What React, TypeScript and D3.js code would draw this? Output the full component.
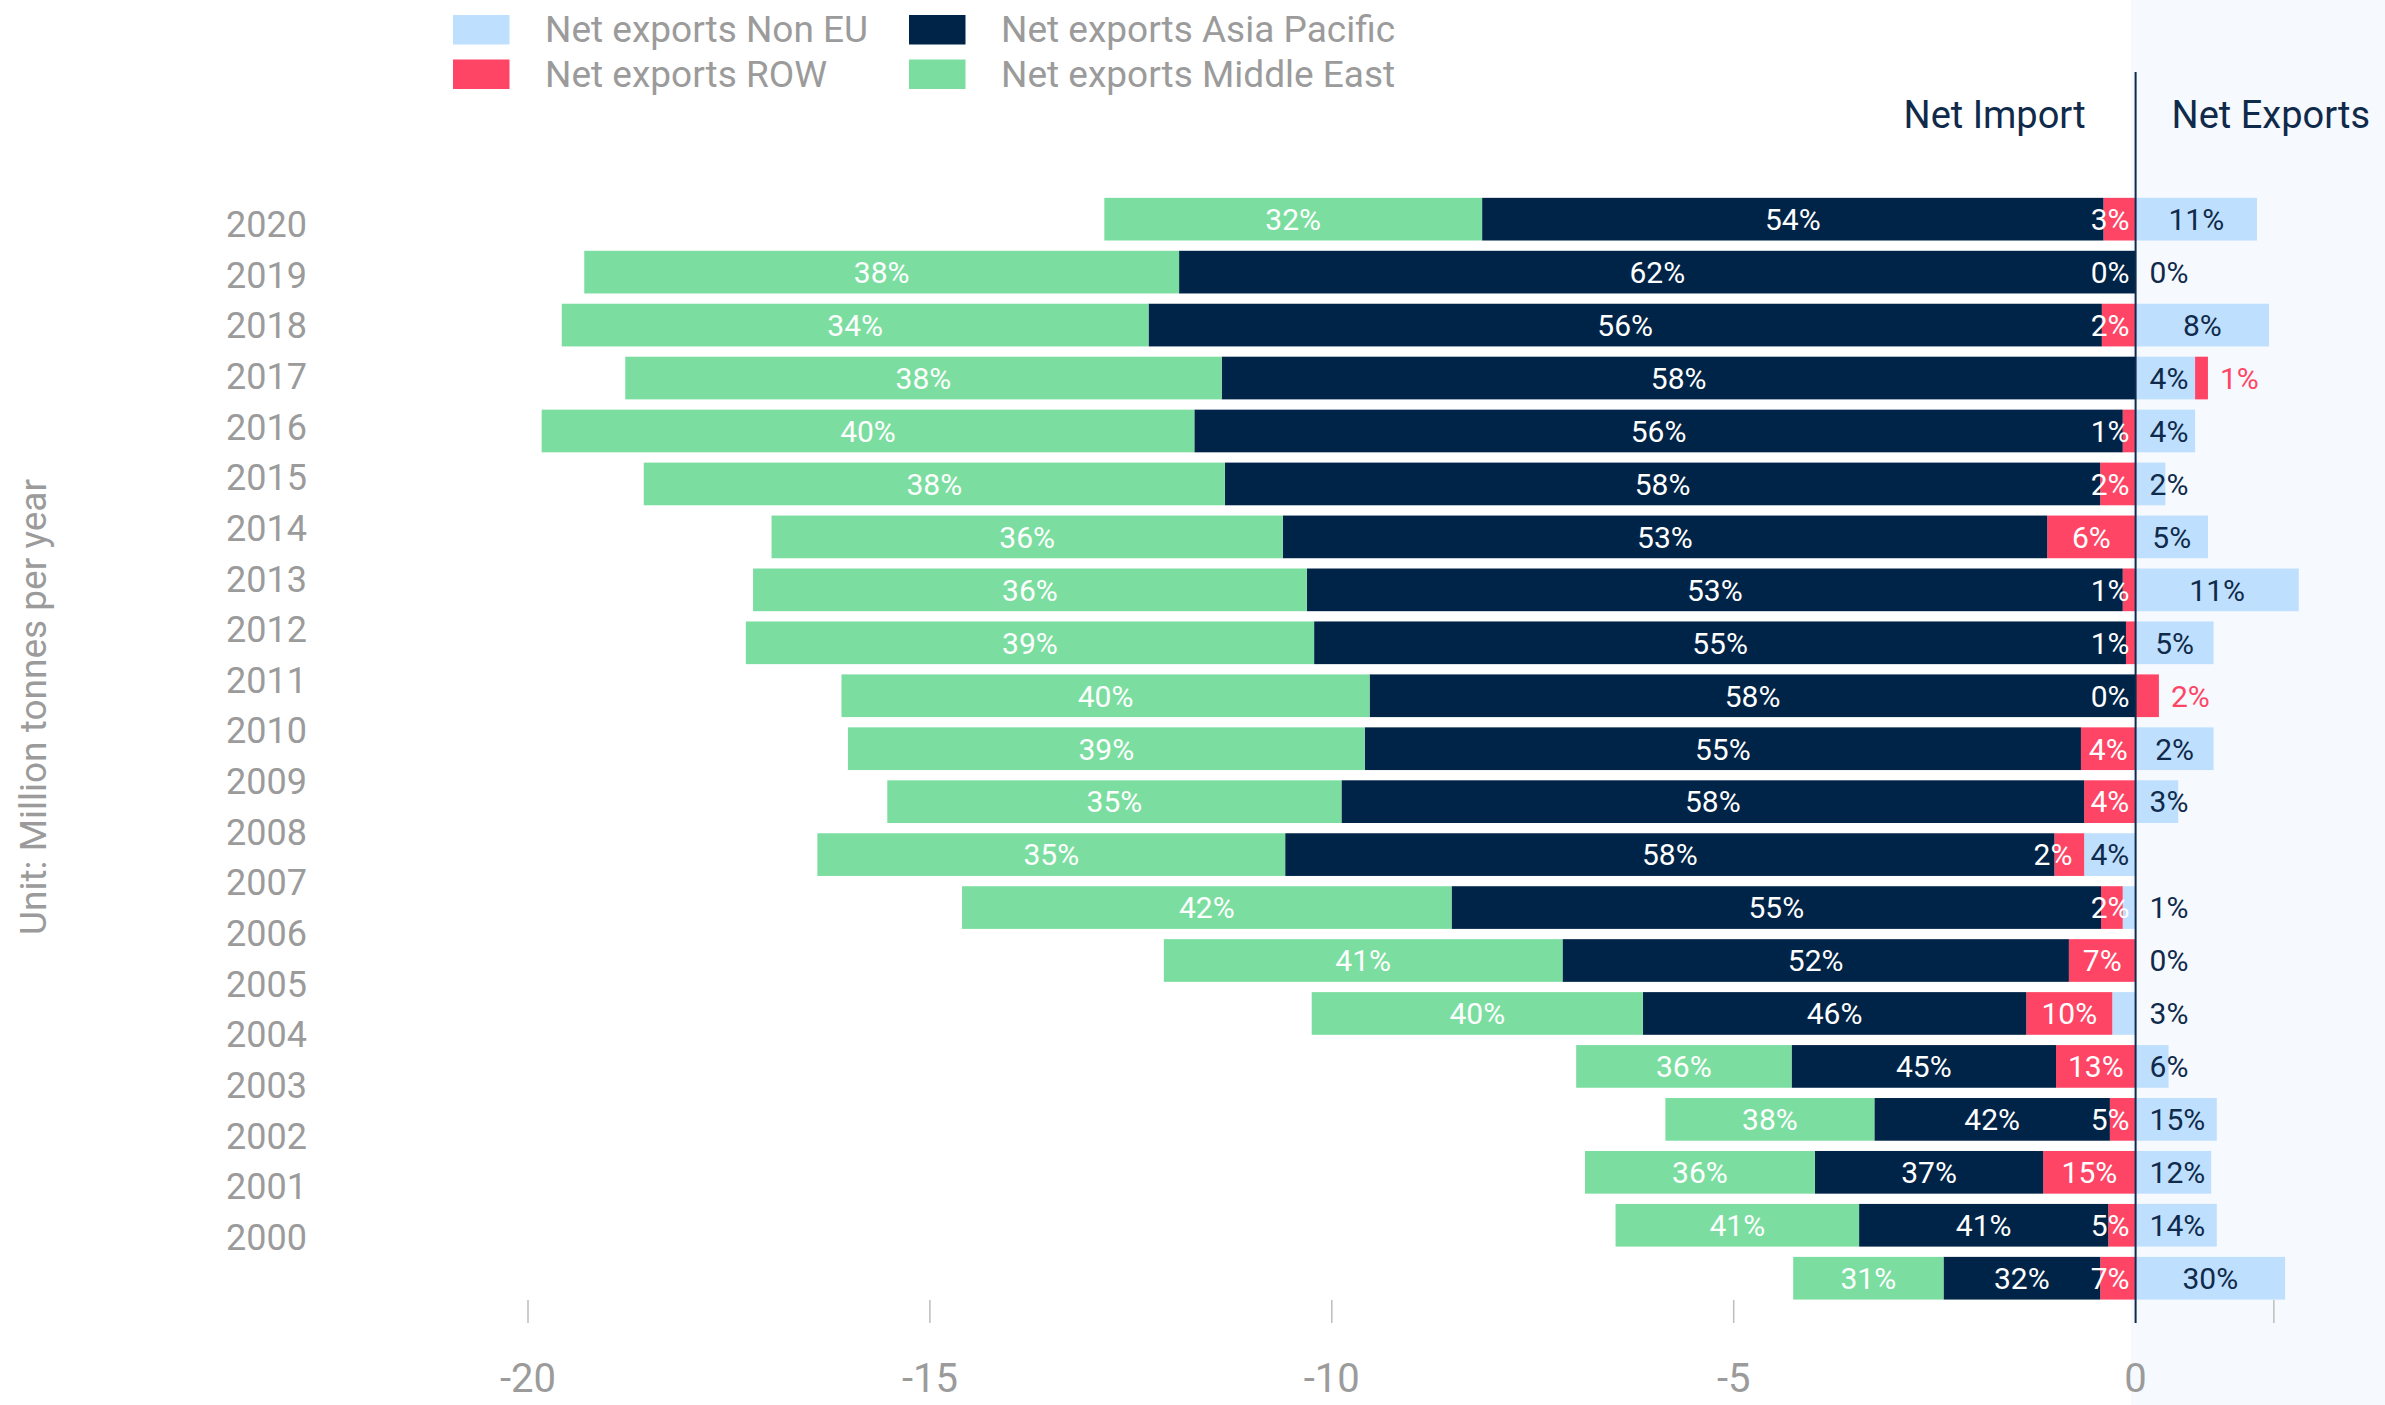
import React from 'react';
import * as d3 from 'd3';

// ---------- data (million tonnes per year, magnitudes) ----------
const years = [2020, 2019, 2018, 2017, 2016, 2015, 2014, 2013, 2012, 2011, 2010, 2009, 2008, 2007, 2006, 2005, 2004, 2003, 2002, 2001, 2000];
const middleEast = [4.70, 7.40, 7.30, 7.42, 8.12, 7.23, 6.36, 6.89, 7.07, 6.57, 6.43, 5.65, 5.82, 6.09, 4.96, 4.12, 2.68, 2.60, 2.86, 3.03, 1.87];
const asiaPacific = [7.73, 11.90, 11.86, 11.37, 11.55, 10.89, 9.51, 10.15, 10.10, 9.53, 8.91, 9.24, 9.57, 8.08, 6.30, 4.77, 3.29, 2.93, 2.84, 3.10, 1.95];
const rowImport = [0.40, 0, 0.42, 0, 0.16, 0.44, 1.10, 0.16, 0.12, 0, 0.68, 0.64, 0.37, 0.27, 0.83, 1.07, 0.99, 0.32, 1.15, 0.34, 0.44];
const rowExport = [0, 0, 0, 0.16, 0, 0, 0, 0, 0, 0.29, 0, 0, 0, 0, 0, 0, 0, 0, 0, 0, 0];
const nonEU = [1.51, 0, 1.66, 0.74, 0.74, 0.37, 0.90, 2.03, 0.97, 0, 0.97, 0.53, -0.64, -0.16, 0, -0.29, 0.41, 1.01, 0.94, 1.01, 1.86];

const middleEastPct = ['32%', '38%', '34%', '38%', '40%', '38%', '36%', '36%', '39%', '40%', '39%', '35%', '35%', '42%', '41%', '40%', '36%', '38%', '36%', '41%', '31%'];
const asiaPacificPct = ['54%', '62%', '56%', '58%', '56%', '58%', '53%', '53%', '55%', '58%', '55%', '58%', '58%', '55%', '52%', '46%', '45%', '42%', '37%', '41%', '32%'];
const rowImportPct = ['3%', '0%', '2%', '', '1%', '2%', '6%', '1%', '1%', '0%', '4%', '4%', '2%', '2%', '7%', '10%', '13%', '5%', '15%', '5%', '7%'];
const rowExportPct = ['', '', '', '1%', '', '', '', '', '', '2%', '', '', '', '', '', '', '', '', '', '', ''];
const nonEUPct = ['11%', '0%', '8%', '4%', '4%', '2%', '5%', '11%', '5%', '', '2%', '3%', '4%', '1%', '0%', '3%', '6%', '15%', '12%', '14%', '30%'];

const xTicks = [-20, -15, -10, -5, 0];
const xAxisEnd = 1.72;

const legendNames = ['Net exports Non EU', 'Net exports ROW', 'Net exports Asia Pacific', 'Net exports Middle East'];
const unitLabel = 'Unit: Million tonnes per year';
const importTitle = 'Net Import';
const exportTitle = 'Net Exports';

// ---------- styles ----------
const C = {
  nonEU: '#bedffd',
  row: '#ff4565',
  ap: '#002448',
  me: '#7bdea0',
  dark: '#0f2a4a',
  grey: '#9b9b9b',
  bg: '#f6f9fe',
  tick: '#bdbdbd',
};
const legendColors = [C.nonEU, C.row, C.ap, C.me];
const FONT = 'Roboto, "Noto Sans", sans-serif';
const W = 2385;
const H = 1405;

let measureCtx: CanvasRenderingContext2D | null = null;
function textWidth(s: string, size: number) {
  if (!measureCtx) measureCtx = document.createElement('canvas').getContext('2d');
  if (!measureCtx) return s.length * size * 0.55;
  measureCtx.font = `${size}px Roboto`;
  return measureCtx.measureText(s).width;
}

export default function App() {
  const x = d3.scaleLinear().domain([-20, 0]).range([528, 2135.6]);
  const y = d3.scaleBand<number>().domain(years).range([192.7, 1304.7]).paddingInner(0.194).paddingOuter(0.097);
  const yLabel = d3.scalePoint<number>().domain(years).range([224, 1237]);
  const x0 = x(0);
  const bw = y.bandwidth();
  const LFS = 30;

  const bars: JSX.Element[] = [];
  const labels: JSX.Element[] = [];

  years.forEach((yr, i) => {
    const top = y(yr)!;
    const cy = top + bw / 2;
    const base = cy + LFS * 0.36;
    const segs: { a: number; b: number; c: string; k: string }[] = [];
    let cur = 0;
    let neSeg: { a: number; b: number } | null = null;
    if (nonEU[i] < 0) {
      neSeg = { a: nonEU[i], b: 0 };
      segs.push({ ...neSeg, c: C.nonEU, k: 'ne' });
      cur = nonEU[i];
    }
    const rowSeg = { a: cur - rowImport[i], b: cur };
    segs.push({ ...rowSeg, c: C.row, k: 'ri' });
    cur -= rowImport[i];
    const apSeg = { a: cur - asiaPacific[i], b: cur };
    segs.push({ ...apSeg, c: C.ap, k: 'ap' });
    cur -= asiaPacific[i];
    const meSeg = { a: cur - middleEast[i], b: cur };
    segs.push({ ...meSeg, c: C.me, k: 'me' });
    let p = 0;
    if (nonEU[i] > 0) {
      neSeg = { a: 0, b: nonEU[i] };
      segs.push({ ...neSeg, c: C.nonEU, k: 'ne' });
      p = nonEU[i];
    }
    if (rowExport[i] > 0) {
      segs.push({ a: p, b: p + rowExport[i], c: C.row, k: 're' });
      p += rowExport[i];
    }
    segs.forEach((s) => {
      const w = x(s.b) - x(s.a);
      if (w <= 0) return;
      bars.push(<rect key={`${yr}-${s.k}`} x={x(s.a)} y={top} width={w} height={bw} fill={s.c} />);
    });

    const mid = (s: { a: number; b: number }) => (x(s.a) + x(s.b)) / 2;
    labels.push(
      <text key={`${yr}-mel`} x={mid(meSeg)} y={base} textAnchor="middle" fill="#fff">{middleEastPct[i]}</text>
    );
    labels.push(
      <text key={`${yr}-apl`} x={mid(apSeg)} y={base} textAnchor="middle" fill="#fff">{asiaPacificPct[i]}</text>
    );
    let neInsideLeft = Infinity;
    if (nonEUPct[i]) {
      const tw = textWidth(nonEUPct[i], LFS);
      if (nonEU[i] < -0.5 && neSeg) {
        const cx = mid(neSeg);
        neInsideLeft = cx - tw / 2;
        labels.push(<text key={`${yr}-nel`} x={cx} y={base} textAnchor="middle" fill={C.dark}>{nonEUPct[i]}</text>);
      } else {
        const cx = nonEU[i] > 0 && neSeg ? mid(neSeg) : x0;
        const left = Math.max(cx - tw / 2, x0 + 14);
        labels.push(<text key={`${yr}-nel`} x={left} y={base} textAnchor="start" fill={C.dark}>{nonEUPct[i]}</text>);
      }
    }
    if (rowImportPct[i]) {
      const tw = textWidth(rowImportPct[i], LFS);
      let right = mid(rowSeg) + tw / 2;
      right = Math.min(right, x0 - 6, neInsideLeft - 18);
      labels.push(<text key={`${yr}-ril`} x={right} y={base} textAnchor="end" fill="#fff">{rowImportPct[i]}</text>);
    }
    if (rowExportPct[i]) {
      labels.push(<text key={`${yr}-rel`} x={x(p) + 12} y={base} textAnchor="start" fill={C.row}>{rowExportPct[i]}</text>);
    }
  });

  const axisTop = 1300;
  const axisBottom = 1323;

  return (
    <svg width={W} height={H} style={{ position: 'absolute', left: 0, top: 0, background: '#fff' }} fontFamily={FONT}>
      <rect x={x0 - 4.5} y={0} width={W - x0 + 4.5} height={H} fill={C.bg} />

      {legendNames.map((name, k) => {
        const col = Math.floor(k / 2);
        const r = k % 2;
        const sx = col === 0 ? 453 : 909;
        const sy = r === 0 ? 15 : 59.5;
        return (
          <g key={name}>
            <rect x={sx} y={sy} width={56.5} height={29.5} fill={legendColors[k]} />
            <text x={sx + 92} y={sy + 27} fontSize={37} fill={C.grey}>{name}</text>
          </g>
        );
      })}

      <text x={x0 - 50} y={128} fontSize={38} textAnchor="end" fill={C.dark}>{importTitle}</text>
      <text x={x0 + 36} y={128} fontSize={38} textAnchor="start" fill={C.dark}>{exportTitle}</text>

      <text transform={`translate(46,707) rotate(-90)`} fontSize={37} textAnchor="middle" fill={C.grey}>{unitLabel}</text>

      {years.map((yr) => (
        <text key={yr} x={307} y={yLabel(yr)! + 36 * 0.36} fontSize={36} textAnchor="end" fill={C.grey}>{yr}</text>
      ))}

      <g>{bars}</g>

      <line x1={x0} x2={x0} y1={72} y2={axisBottom} stroke={C.dark} strokeWidth={2} />

      {xTicks.filter((t) => t !== 0).concat([xAxisEnd]).map((t) => (
        <line key={`t${t}`} x1={x(t)} x2={x(t)} y1={axisTop} y2={axisBottom} stroke={C.tick} strokeWidth={1.5} />
      ))}
      {xTicks.map((t) => (
        <text key={`tl${t}`} x={x(t)} y={1392} fontSize={40} textAnchor="middle" fill={C.grey}>{t}</text>
      ))}

      <g fontSize={LFS}>{labels}</g>
    </svg>
  );
}
